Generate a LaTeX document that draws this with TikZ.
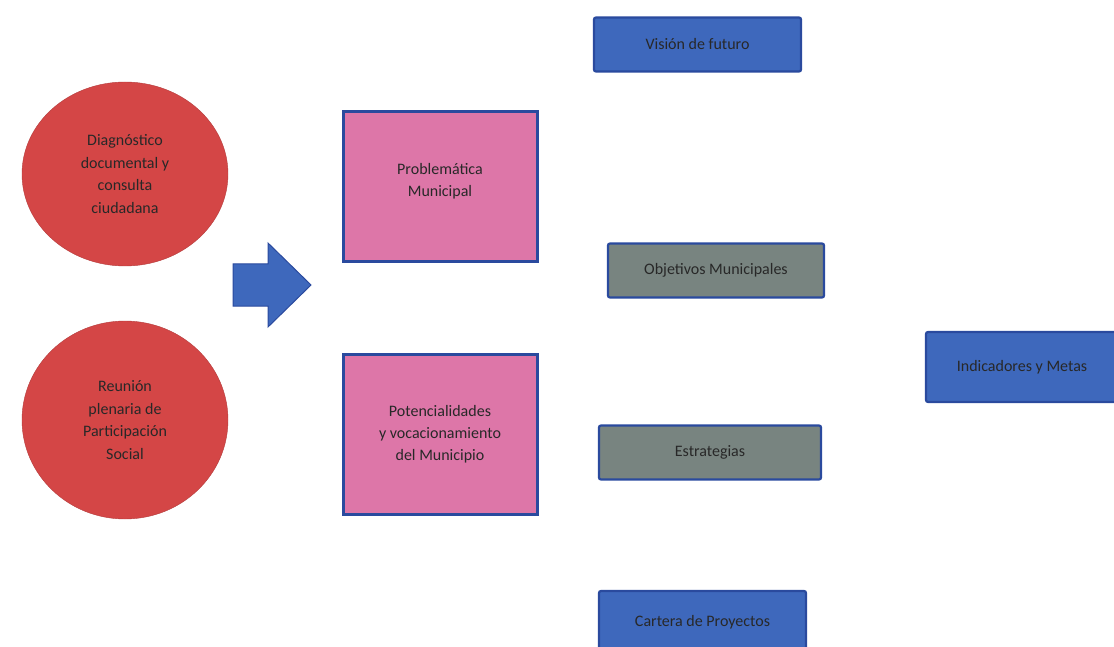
\documentclass[tikz,border=0pt]{standalone}
\usepackage{fontspec}
\setmainfont{Carlito}
\usepackage{tikz}
\usetikzlibrary{shapes.geometric}
\definecolor{rojo}{RGB}{212,70,70}
\definecolor{rosa}{RGB}{221,118,168}
\definecolor{azul}{RGB}{62,104,188}
\definecolor{azulborde}{RGB}{42,74,158}
\definecolor{gris}{RGB}{120,132,128}
\definecolor{texto}{RGB}{40,40,40}
\tikzstyle{circulo} = [ellipse, fill=rojo, draw=rojo!85!black, thin,
    minimum width=206pt, minimum height=184pt, inner sep=0pt,
    align=center, text=texto, font=\fontsize{16}{22.5}\selectfont]
\tikzstyle{cajarosa} = [rectangle, fill=rosa, draw=azulborde, line width=3pt,
    minimum width=194pt, minimum height=150pt, inner sep=0pt,
    align=center, text=texto, font=\fontsize{16}{22}\selectfont]
\tikzstyle{cajaazul} = [rectangle, rounded corners=2pt, fill=azul, draw=azulborde, line width=2.2pt,
    inner sep=0pt, text=texto, font=\fontsize{16}{18}\selectfont]
\tikzstyle{cajagris} = [cajaazul, fill=gris]
\tikzstyle{flechagrande} = [fill=azul, draw=azulborde, line width=1pt, line join=miter]

\begin{document}
\begin{tikzpicture}[x=1pt, y=-1pt]
    \useasboundingbox (0,0) rectangle (1114,647);
    % entradas
    \node[circulo] (diagnostico) at (125,174) {Diagnóstico\\documental y\\consulta\\ciudadana};
    \node[circulo, minimum height=198pt] (reunion) at (125,420) {Reunión\\plenaria de\\Participación\\Social};
    % flecha
    \draw[flechagrande] (233,264) -- (268,264) -- (268,243) -- (311,285)
        -- (268,327) -- (268,306) -- (233,306) -- cycle;
    % diagnostico
    \node[cajarosa] (problematica) at (440,187) {Problemática\\Municipal\\[-8pt]};
    \node[cajarosa, minimum height=160pt] (potencialidades) at (440,434) {Potencialidades\\y vocacionamiento\\del Municipio};
    % planeacion
    \node[cajaazul, minimum width=207pt, minimum height=54pt] (vision) at (697.5,44.5) {Visión de futuro};
    \node[cajagris, minimum width=216pt, minimum height=54pt] (objetivos) at (716,270.5) {Objetivos Municipales};
    \node[cajagris, minimum width=222pt, minimum height=54pt] (estrategias) at (710,452.5) {Estrategias};
    \node[cajaazul, minimum width=207pt, minimum height=62pt] (cartera) at (702.5,622) {Cartera de Proyectos};
    \node[cajaazul, minimum width=192pt, minimum height=70pt] (indicadores) at (1022,367) {Indicadores y Metas};
\end{tikzpicture}
\end{document}
